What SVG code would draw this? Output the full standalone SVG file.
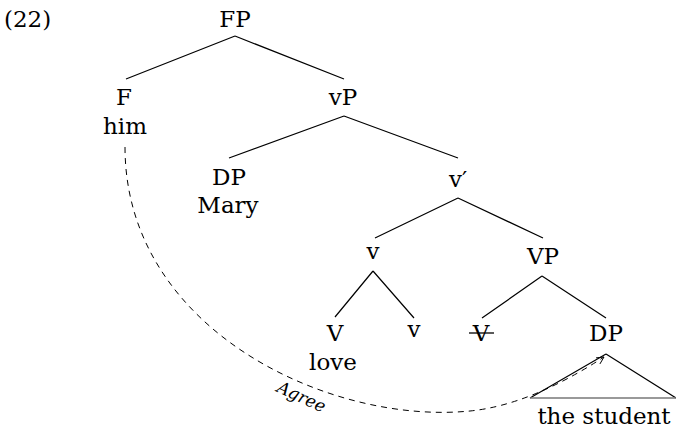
<svg xmlns="http://www.w3.org/2000/svg" width="676" height="431" viewBox="0 0 676 431">
<style>
text{font-family:"DejaVu Serif","Liberation Serif",serif;font-size:23px;fill:#000;text-anchor:middle}
.edge{stroke:#000;stroke-width:1.2;fill:none}
.agree{font-style:italic;font-size:17px}
</style>
<defs>
<marker id="arr" viewBox="0 0 10 10" refX="9" refY="5" markerWidth="9" markerHeight="9" markerUnits="userSpaceOnUse" orient="auto">
<path d="M1,1 L9,5 L1,9" fill="none" stroke="#000" stroke-width="1"/>
</marker>
</defs>
<text x="4" y="27" style="text-anchor:start">(22)</text>
<g id="connectors">
<path class="edge" d="M235,36 L126,79 M235,36 L344,79"/>
<path class="edge" d="M344,116 L229,158 M344,116 L458,158"/>
<path class="edge" d="M458,198 L375,238 M458,198 L543,238"/>
<path class="edge" d="M373,271 L335,317 M373,271 L414,318"/>
<path class="edge" d="M542,276 L482,318 M542,276 L606,318"/>
<path class="edge" d="M606,354 L530,398 M606,354 L676,398"/>
<path d="M530,398 L676,398" stroke="#777" stroke-width="1.4" fill="none"/>
<path d="M125,147 C125,330 330,425 470,411 Q530,405 604,357" fill="none" stroke="#000" stroke-width="1" stroke-dasharray="6,5" marker-end="url(#arr)"/>
<text class="agree" transform="translate(299,402) rotate(25)">Agree</text>
</g>
<g id="FP"><text x="235" y="27">FP</text></g>
<g id="F"><text x="124" y="105">F</text><text x="125" y="134">him</text></g>
<g id="vP"><text x="343" y="105">vP</text></g>
<g id="DP1"><text x="229" y="185">DP</text><text x="228" y="213">Mary</text></g>
<g id="vbar"><text x="458" y="187">v′</text></g>
<g id="v1"><text x="373" y="259">v</text></g>
<g id="VP"><text x="543" y="264">VP</text></g>
<g id="V1"><text x="335" y="341">V</text><text x="333" y="370">love</text></g>
<g id="v2"><text x="414" y="337">v</text></g>
<g id="V2"><text x="481" y="341">V</text><path d="M469,333 L494,333" stroke="#000" stroke-width="1.3"/></g>
<g id="DP2"><text x="606" y="341">DP</text></g>
<g id="student"><text x="604" y="424">the student</text></g>
</svg>
